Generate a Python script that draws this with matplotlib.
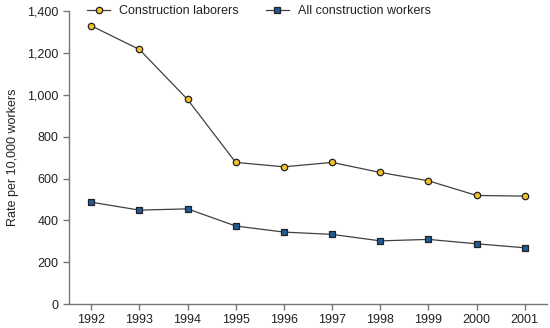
import matplotlib
matplotlib.use("Agg")
import matplotlib.pyplot as plt

plt.rcParams['font.family'] = ['Liberation Sans', 'DejaVu Sans']

years = [1992, 1993, 1994, 1995, 1996, 1997, 1998, 1999, 2000, 2001]
laborers = [1330, 1217, 978, 677, 656, 677, 629, 589, 519, 516]
all_workers = [487, 449, 455, 373, 344, 333, 302, 309, 288, 269]
yticks = [0, 200, 400, 600, 800, 1000, 1200, 1400]

fig = plt.figure(figsize=(5.5, 3.28), dpi=100)
ax = fig.add_axes([0.1255, 0.073, 0.869, 0.893])

line_col = '#404040'
ax.plot(years, laborers, color=line_col, lw=0.9, marker='o', ms=4.6,
        mfc='#f2c12e', mec='#222222', mew=0.9, label='Construction laborers')
ax.plot(years, all_workers, color=line_col, lw=0.9, marker='s', ms=4.2,
        mfc='#1f5b95', mec='#222222', mew=0.9, label='All construction workers')

ax.set_xlim(1991.54, 2001.46)
ax.set_ylim(0, 1400)
ax.set_xticks(years)
ax.set_xticklabels([str(y) for y in years])
ax.set_yticks(yticks)
ax.set_yticklabels([f'{v:,}' for v in yticks])
ax.set_ylabel('Rate per 10,000 workers', fontsize=9, color='#222222', labelpad=6)

for s in ['top', 'right']:
    ax.spines[s].set_visible(False)
for s in ['left', 'bottom']:
    ax.spines[s].set_color('#777777')
    ax.spines[s].set_linewidth(1.0)
ax.tick_params(axis='both', colors='#777777', labelcolor='#222222',
               labelsize=9, length=4, width=1.0)

ax.legend(loc='center left', bbox_to_anchor=(0.0377, 1.0), ncol=2, frameon=False,
          fontsize=9, handlelength=1.85, handletextpad=0.72, columnspacing=2.16,
          borderpad=0, borderaxespad=0, labelcolor='#222222')

fig.savefig('out.png', dpi=100)
